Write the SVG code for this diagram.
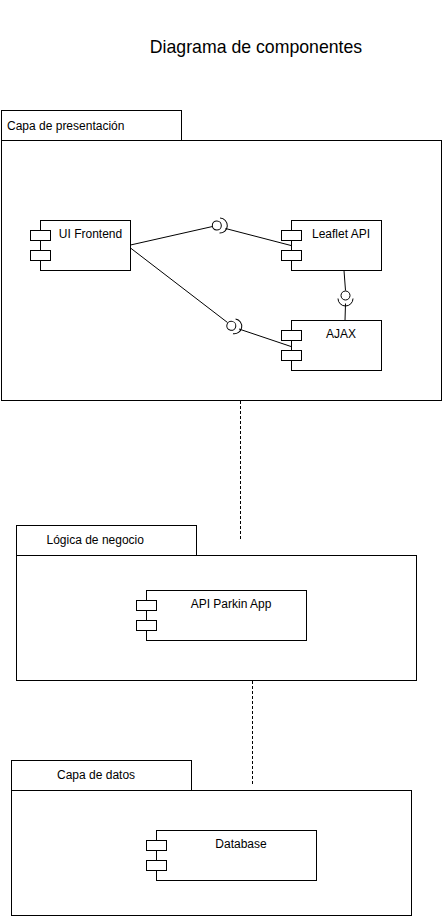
<svg xmlns="http://www.w3.org/2000/svg" width="442" height="916" viewBox="0 0 442 916">
<style>
.box{fill:#fff;stroke:#000;stroke-width:1}
.ln{fill:none;stroke:#000;stroke-width:1}
.dash{fill:none;stroke:#000;stroke-width:1;stroke-dasharray:3 2}
text{font-family:"Liberation Sans",Arial,Helvetica,sans-serif;font-size:12px;fill:#000}
.title{font-size:17.7px}
.mid{text-anchor:middle}
</style>
<defs>
<g id="lolli">
<circle cx="0" cy="0" r="4.5" fill="#fff" stroke="#000" stroke-width="1"/>
<path d="M3,-7.5 A7.5,7.5 0 0 1 3,7.5" fill="none" stroke="#000" stroke-width="1"/>
</g>
</defs>
<rect width="442" height="916" fill="#fff"/>
<text class="title mid" x="256" y="53">Diagrama de componentes</text>

<g id="pkg-presentacion">
<rect class="box" x="1.5" y="110.5" width="180" height="30"/>
<rect class="box" x="1.5" y="140.5" width="440" height="260"/>
<text x="7" y="129.5">Capa de presentación</text>
</g>
<g id="pkg-logica">
<rect class="box" x="16.5" y="525.5" width="180" height="30"/>
<rect class="box" x="16.5" y="555.5" width="400" height="125"/>
<text x="46.5" y="544">Lógica de negocio</text>
</g>
<g id="pkg-datos">
<rect class="box" x="11.5" y="760.5" width="180" height="30"/>
<rect class="box" x="11.5" y="790.5" width="400" height="125"/>
<text x="57" y="779">Capa de datos</text>
</g>

<g id="connectors">
<line class="ln" x1="130.5" y1="245" x2="212.5" y2="226.5"/>
<line class="ln" x1="225.5" y1="228.5" x2="291" y2="245.5"/>
<line class="ln" x1="130.5" y1="248" x2="227.5" y2="322.5"/>
<line class="ln" x1="239" y1="329" x2="291" y2="346.5"/>
<line class="ln" x1="344" y1="270.5" x2="345.5" y2="290.5"/>
<line class="ln" x1="345.5" y1="303.5" x2="345" y2="320.5"/>
<line class="dash" x1="240.5" y1="401" x2="240.5" y2="540"/>
<line class="dash" x1="252.5" y1="681" x2="252.5" y2="786"/>
<use href="#lolli" transform="translate(216.8,225.5) rotate(2)"/>
<use href="#lolli" transform="translate(231.3,325.8) rotate(10)"/>
<use href="#lolli" transform="translate(345.5,295.5) rotate(90)"/>
</g>

<g id="ui-frontend">
<rect class="box" x="40.5" y="220.5" width="90" height="50"/>
<rect class="box" x="30.5" y="230.5" width="20" height="10"/>
<rect class="box" x="30.5" y="250.5" width="20" height="10"/>
<text class="mid" x="90.5" y="237.5">UI Frontend</text>
</g>
<g id="leaflet-api">
<rect class="box" x="291.5" y="220.5" width="90" height="50"/>
<rect class="box" x="281.5" y="230.5" width="20" height="10"/>
<rect class="box" x="281.5" y="250.5" width="20" height="10"/>
<text class="mid" x="341" y="237.5">Leaflet API</text>
</g>
<g id="ajax">
<rect class="box" x="291.5" y="320.5" width="90" height="50"/>
<rect class="box" x="281.5" y="330.5" width="20" height="10"/>
<rect class="box" x="281.5" y="350.5" width="20" height="10"/>
<text class="mid" x="341" y="337.5">AJAX</text>
</g>
<g id="api-parkin-app">
<rect class="box" x="146.5" y="590.5" width="160" height="50"/>
<rect class="box" x="136.5" y="600.5" width="20" height="10"/>
<rect class="box" x="136.5" y="620.5" width="20" height="10"/>
<text class="mid" x="231" y="607.5">API Parkin App</text>
</g>
<g id="database">
<rect class="box" x="156.5" y="830.5" width="160" height="50"/>
<rect class="box" x="146.5" y="840.5" width="20" height="10"/>
<rect class="box" x="146.5" y="860.5" width="20" height="10"/>
<text class="mid" x="241" y="847.5">Database</text>
</g>
</svg>
